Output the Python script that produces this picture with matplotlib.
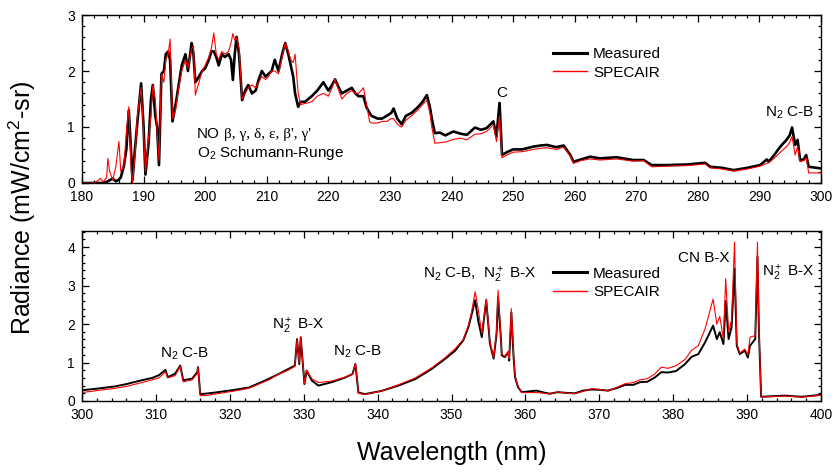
import numpy as np
import matplotlib
matplotlib.use("Agg")
import matplotlib.pyplot as plt
from matplotlib.ticker import MultipleLocator

plt.rcParams['font.family'] = ['Liberation Sans', 'DejaVu Sans']
plt.rcParams['mathtext.fontset'] = 'custom'
plt.rcParams['mathtext.rm'] = 'Liberation Sans'
plt.rcParams['mathtext.it'] = 'Liberation Sans'

# top panel: 180-300 nm
wl_top = [180.0, 182.0, 183.0, 183.4, 184.0, 184.2, 184.5, 185.0, 185.5, 186.0,
          186.3, 186.8, 187.2, 187.6, 188.0, 188.2, 188.6, 189.0, 189.6, 190.0,
          190.3, 190.8, 191.2, 191.5, 191.9, 192.2, 192.5, 192.9, 193.3, 193.6,
          194.0, 194.3, 194.7, 195.2, 195.7, 196.2, 196.8, 197.2, 197.8, 198.1,
          198.4, 199.0, 199.5, 200.0, 200.6, 201.0, 201.4, 201.8, 202.2, 202.7,
          203.2, 203.8, 204.2, 204.5, 204.8, 205.1, 205.5, 206.0, 206.5, 207.0,
          207.6, 208.2, 208.7, 209.2, 209.8, 210.3, 210.8, 211.3, 211.9, 212.5,
          213.0, 213.5, 213.9, 214.3, 214.6, 215.1, 215.5, 216.2, 217.3, 218.2,
          219.2, 220.0, 220.6, 221.1, 221.7, 222.2, 223.0, 223.8, 224.4, 224.9,
          225.7, 226.2, 226.7, 227.0, 228.0, 228.7, 229.5, 230.2, 230.6, 231.2,
          231.9, 232.6, 233.5, 234.5, 235.3, 236.0, 236.5, 236.8, 237.3, 238.1,
          239.0, 240.3, 241.5, 242.5, 243.8, 244.8, 245.7, 246.8, 247.3, 247.8,
          248.2, 249.0, 250.0, 251.5, 253.3, 254.5, 255.5, 257.0, 258.2, 259.3,
          259.8, 261.0, 262.5, 264.1, 266.8, 269.5, 271.2, 272.5, 275.0, 278.2,
          281.2, 282.0, 284.0, 285.8, 288.0, 290.1, 291.2, 291.5, 292.4, 293.4,
          294.4, 294.9, 295.3, 295.8, 296.2, 296.6, 297.2, 297.6, 298.0, 300.0]
meas_top = [0, 0, 0, 0, 0.02, 0.03, 0.05, 0.08, 0.03, 0.06,
            0.1, 0.3, 0.6, 1.3, 0.5, 0.05, 0.6, 1.1, 1.78, 1.0,
            0.15, 0.7, 1.5, 1.75, 1.2, 1.0, 0.32, 1.95, 2.0, 2.3,
            2.35, 2.2, 1.1, 1.4, 1.75, 2.1, 2.3, 2.0, 2.5, 2.3,
            1.8, 1.9, 2.0, 2.05, 2.2, 2.35, 2.35, 2.25, 2.1, 2.3,
            2.25, 2.3, 2.2, 1.84, 2.3, 2.61, 2.3, 1.48, 1.65, 1.75,
            1.6, 1.65, 1.85, 2.0, 1.9, 1.95, 2.0, 2.2, 2.0, 2.3,
            2.5, 2.3, 2.1, 1.9, 1.6, 1.36, 1.45, 1.45, 1.55, 1.65,
            1.8, 1.65, 1.75, 1.85, 1.7, 1.6, 1.65, 1.7, 1.6, 1.55,
            1.55, 1.35, 1.25, 1.2, 1.15, 1.15, 1.2, 1.25, 1.33, 1.15,
            1.05, 1.2, 1.25, 1.35, 1.45, 1.57, 1.35, 1.15, 0.89, 0.9,
            0.85, 0.92, 0.88, 0.86, 0.99, 0.95, 0.98, 1.1, 0.83, 1.43,
            0.5, 0.55, 0.6, 0.6, 0.65, 0.67, 0.68, 0.64, 0.67, 0.5,
            0.38, 0.42, 0.47, 0.44, 0.46, 0.41, 0.41, 0.32, 0.32, 0.33,
            0.36, 0.29, 0.27, 0.23, 0.27, 0.32, 0.42, 0.38, 0.5, 0.65,
            0.77, 0.85, 0.99, 0.68, 0.77, 0.41, 0.42, 0.5, 0.29, 0.26]
spec_top = [0, 0, 0.08, 0.02, 0.1, 0.44, 0.2, 0.05, 0.3, 0.74,
            0.2, 0.3, 0.9, 1.36, 0.2, 0.0, 0.5, 1.2, 1.7, 0.9,
            0.2, 0.8, 1.2, 1.75, 1.5, 0.9, 0.4, 1.95, 1.8, 2.2,
            2.3, 2.57, 1.15, 1.3, 1.7, 2.0, 2.2, 2.05, 2.4, 2.45,
            1.57, 1.8, 2.0, 2.1, 2.25, 2.4, 2.68, 2.3, 2.2, 2.35,
            2.3, 2.35, 2.5, 2.67, 2.55, 2.6, 2.4, 1.5, 1.6, 1.7,
            1.75, 1.7, 1.8, 1.9, 1.85, 1.9, 2.0, 2.0, 1.95, 2.25,
            2.5, 2.35, 2.2, 2.15, 2.3, 1.6, 1.4, 1.42, 1.45, 1.55,
            1.6, 1.55, 1.7, 1.85, 1.65, 1.5, 1.6, 1.65, 1.6, 1.6,
            1.7, 1.4, 1.1, 1.07, 1.07, 1.1, 1.1, 1.15, 1.15, 1.05,
            1.0, 1.12, 1.2, 1.3, 1.4, 1.48, 1.25, 1.0, 0.71, 0.72,
            0.73, 0.78, 0.8, 0.77, 0.87, 0.88, 0.92, 1.04, 0.74, 1.2,
            0.45, 0.5, 0.55, 0.56, 0.6, 0.62, 0.63, 0.6, 0.64, 0.48,
            0.35, 0.4, 0.43, 0.41, 0.43, 0.39, 0.4, 0.29, 0.3, 0.31,
            0.34, 0.27, 0.25, 0.21, 0.25, 0.3, 0.35, 0.36, 0.44, 0.55,
            0.65, 0.72, 0.83, 0.5, 0.65, 0.38, 0.4, 0.45, 0.18, 0.18]

# bottom panel: 300-400 nm
wl_bot = [300.0, 302.0, 304.5, 306.0, 308.1, 309.5, 310.4, 311.3, 311.6, 312.6,
          313.3, 313.7, 314.9, 315.6, 315.7, 316.0, 316.7, 318.0, 320.3, 322.6,
          324.4, 325.3, 326.6, 327.9, 328.8, 329.1, 329.4, 329.6, 330.1, 330.4,
          331.1, 332.0, 333.8, 335.6, 336.6, 337.0, 337.4, 338.3, 340.5, 342.8,
          345.1, 347.3, 349.1, 350.5, 351.6, 352.3, 352.7, 353.2, 353.6, 354.1,
          354.7, 355.2, 355.7, 356.1, 356.3, 356.7, 356.8, 357.2, 357.7, 357.8,
          358.1, 358.4, 358.6, 359.0, 359.5, 361.5, 362.5, 363.3, 364.4, 365.6,
          366.7, 367.8, 369.0, 370.1, 371.2, 372.4, 373.5, 374.6, 375.5, 376.5,
          377.5, 378.4, 379.3, 380.4, 381.6, 382.5, 383.4, 384.3, 385.4, 385.9,
          386.3, 386.8, 387.1, 387.5, 387.9, 388.3, 388.6, 389.0, 389.7, 390.1,
          390.4, 391.1, 391.4, 391.6, 391.9, 392.9, 395.1, 397.4, 400.0]
meas_bot = [0.28, 0.32, 0.38, 0.44, 0.54, 0.6, 0.67, 0.81, 0.62, 0.71,
            0.92, 0.54, 0.58, 0.75, 0.88, 0.18, 0.19, 0.22, 0.28, 0.35,
            0.5, 0.58, 0.7, 0.83, 0.92, 1.61, 0.96, 1.65, 0.44, 0.79,
            0.53, 0.4, 0.49, 0.61, 0.7, 0.96, 0.22, 0.18, 0.26, 0.4,
            0.57, 0.83, 1.09, 1.31, 1.58, 1.93, 2.23, 2.62, 2.1, 1.66,
            2.62, 1.49, 1.1, 1.75, 2.7, 1.58, 1.19, 1.14, 1.27, 1.05,
            2.3, 1.14, 0.62, 0.36, 0.23, 0.27, 0.22, 0.19, 0.23, 0.21,
            0.2, 0.27, 0.3, 0.29, 0.27, 0.34, 0.42, 0.42, 0.49, 0.5,
            0.61, 0.75, 0.74, 0.78, 0.96, 1.15, 1.22, 1.52, 1.96, 1.61,
            1.79, 1.48, 2.6, 1.61, 1.92, 3.44, 1.44, 1.22, 1.31, 1.13,
            1.44, 1.61, 3.75, 1.8, 0.11, 0.12, 0.14, 0.11, 0.16]
spec_bot = [0.22, 0.27, 0.33, 0.38, 0.48, 0.55, 0.6, 0.76, 0.6, 0.66,
            0.9, 0.5, 0.55, 0.72, 0.88, 0.14, 0.14, 0.18, 0.25, 0.33,
            0.48, 0.55, 0.7, 0.8, 0.9, 1.6, 1.0, 1.68, 0.45, 0.8,
            0.58, 0.48, 0.52, 0.62, 0.7, 0.98, 0.2, 0.17, 0.26, 0.42,
            0.6, 0.86, 1.12, 1.36, 1.6, 1.98, 2.3, 2.84, 2.4, 1.75,
            2.65, 1.55, 1.12, 1.8, 2.88, 1.6, 1.22, 1.16, 1.3, 1.1,
            2.4, 1.2, 0.65, 0.38, 0.22, 0.22, 0.2, 0.18, 0.24, 0.2,
            0.19, 0.25, 0.32, 0.3, 0.26, 0.36, 0.45, 0.48, 0.55, 0.58,
            0.7, 0.88, 0.85, 0.92, 1.08, 1.32, 1.44, 1.87, 2.65, 2.0,
            2.2, 1.6, 3.18, 1.8, 2.1, 4.13, 1.5, 1.25, 1.35, 1.2,
            1.66, 1.7, 4.13, 1.9, 0.11, 0.11, 0.13, 0.1, 0.15]

W, H = 834, 475
fig = plt.figure(figsize=(W / 100, H / 100), dpi=100)
ax1 = fig.add_axes([82 / W, (H - 183) / H, 739 / W, 168 / H])
ax2 = fig.add_axes([82 / W, (H - 401) / H, 739 / W, 170 / H])

ax1.plot(wl_top, meas_top, color='black', lw=1.9, label='Measured')
ax1.plot(wl_top, spec_top, color='red', lw=0.8, label='SPECAIR')
ax2.plot(wl_bot, meas_bot, color='black', lw=1.4, label='Measured')
ax2.plot(wl_bot, spec_bot, color='red', lw=0.8, label='SPECAIR')

ax1.set_xlim(180, 300)
ax1.set_ylim(0, 3)
ax2.set_xlim(300, 400)
ax2.set_ylim(0, 4.42)

for ax in (ax1, ax2):
    ax.xaxis.set_major_locator(MultipleLocator(10))
    ax.xaxis.set_minor_locator(MultipleLocator(2))
    ax.yaxis.set_major_locator(MultipleLocator(1))
    ax.yaxis.set_minor_locator(MultipleLocator(0.2))
    ax.tick_params(which='both', direction='in', top=True, right=True,
                   labelsize=10, width=0.9)
    ax.tick_params(which='major', length=5, pad=5)
    ax.tick_params(which='minor', length=2.5)
    for s in ax.spines.values():
        s.set_linewidth(1.0)
    leg = ax.legend(loc='upper left', frameon=False, fontsize=11,
                    handlelength=2.25, handletextpad=0.4, labelspacing=0.3,
                    borderpad=0, borderaxespad=0)
    for h in leg.get_lines():
        h.set_linewidth(2.2 if h.get_color() == 'black' else 1.0)

ax1.get_legend().set_bbox_to_anchor((0.637, 0.81))
ax2.get_legend().set_bbox_to_anchor((0.637, 0.79))

fs = 11
ax1.text(198.7, 0.81, 'NO', fontsize=fs, va='baseline')
ax1.text(203.1, 0.81, "\u03b2, \u03b3, \u03b4, \u03b5, \u03b2', \u03b3'", fontsize=fs,
         va='baseline', family=['Liberation Serif', 'DejaVu Serif'])
ax1.text(198.7, 0.47, 'O$_2$ Schumann-Runge', fontsize=fs, va='baseline')
ax1.text(248.2, 1.54, 'C', fontsize=fs, va='baseline', ha='center')
ax1.text(290.9, 1.18, 'N$_2$ C-B', fontsize=fs, va='baseline')

ax2.text(310.6, 1.14, 'N$_2$ C-B', fontsize=fs, va='baseline')
ax2.text(325.7, 1.86, 'N$_2^+$ B-X', fontsize=fs, va='baseline')
ax2.text(334.0, 1.17, 'N$_2$ C-B', fontsize=fs, va='baseline')
ax2.text(346.1, 3.18, 'N$_2$ C-B,  N$_2^+$ B-X', fontsize=fs, va='baseline')
ax2.text(380.7, 3.62, 'CN B-X', fontsize=fs, va='baseline')
ax2.text(392.0, 3.23, 'N$_2^+$ B-X', fontsize=fs, va='baseline')

fig.text(22 / W, 1 - 208 / H, 'Radiance (mW/cm$^2$-sr)', fontsize=18,
         rotation=90, ha='center', va='center')
fig.text(452 / W, 1 - 453 / H, 'Wavelength (nm)', fontsize=18,
         ha='center', va='center')

fig.savefig('out.png', dpi=100)
